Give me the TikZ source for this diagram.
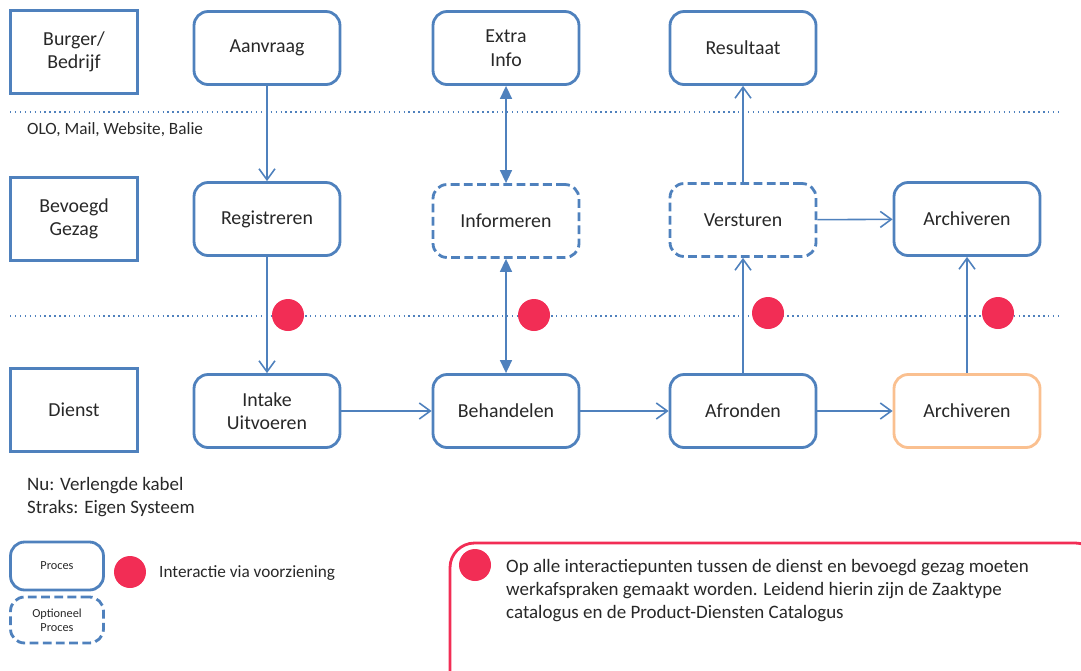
\documentclass[tikz,border=0pt]{standalone}
\usepackage{fontspec}
\setmainfont{Carlito}
\usetikzlibrary{positioning,arrows.meta}
\definecolor{procblue}{RGB}{79,129,189}
\definecolor{archorange}{RGB}{250,192,144}
\definecolor{dotred}{RGB}{242,45,85}
\definecolor{txtgray}{RGB}{40,40,40}

\begin{document}
\begin{tikzpicture}[x=0.02cm, y=-0.02cm, >=Stealth,
    actor/.style={draw=procblue, line width=1.6pt, minimum width=2.54cm, minimum height=1.66cm, align=center, text=txtgray, font=\fontsize{11.3}{13.4}\selectfont},
    proces/.style={draw=procblue, line width=1.6pt, rounded corners=8pt, minimum width=2.92cm, minimum height=1.46cm, align=center, text=txtgray, font=\fontsize{11.3}{13.4}\selectfont},
    optproces/.style={proces, dash pattern=on 5pt off 2.5pt},
    flow/.style={draw=procblue, line width=0.9pt, -{Straight Barb[length=2.2mm, width=3.2mm]}},
    twoway/.style={draw=procblue, line width=0.9pt, {Triangle[length=2.6mm, width=2.4mm]}-{Triangle[length=2.6mm, width=2.4mm]}},
    lane/.style={draw=procblue, line width=0.8pt, dotted},
    dot/.style={circle, fill=dotred, minimum size=0.64cm, inner sep=0pt}]

    \clip (0,0) rectangle (1081,670);

    % --- LANES ---
    \draw[lane] (10,112) -- (1060,112);
    \draw[lane] (10,316) -- (1060,316);
    \node[anchor=west, text=txtgray, font=\fontsize{9.8}{12}\selectfont] (kanaal) at (21,130) {OLO, Mail, Website, Balie};

    \node[actor] (burger) at (74,52) {Burger/\\Bedrijf};
    \node[actor] (gezag) at (74,219) {Bevoegd\\Gezag};
    \node[actor] (dienst) at (74,410) {Dienst};

    % --- BURGER / BEDRIJF ---
    \node[proces] (aanvraag) at (267,48) {Aanvraag};
    \node[proces] (extra) at (506,48) {Extra\\Info};
    \node[proces] (resultaat) at (743,48) {Resultaat};

    % --- BEVOEGD GEZAG ---
    \node[proces] (registreren) at (267,219) {Registreren};
    \node[optproces] (informeren) at (506,221) {Informeren};
    \node[optproces] (versturen) at (743,220) {Versturen};
    \node[proces] (archiefgezag) at (967,219) {Archiveren};

    % --- DIENST ---
    \node[proces] (intake) at (267,411) {Intake\\Uitvoeren};
    \node[proces] (behandelen) at (506,411) {Behandelen};
    \node[proces] (afronden) at (743,411) {Afronden};
    \node[proces, draw=archorange] (archiefdienst) at (967,411) {Archiveren};

    % --- CONNECTORS ---
    \draw[flow] (aanvraag) -- (registreren);
    \draw[flow] (registreren) -- (intake);
    \draw[twoway] (extra) -- (informeren);
    \draw[twoway] (informeren) -- (behandelen);
    \draw[flow] (afronden) -- (versturen);
    \draw[flow] (versturen) -- (resultaat);
    \draw[flow] (versturen) -- (archiefgezag);
    \draw[flow] (archiefdienst) -- (archiefgezag);
    \draw[flow] (intake) -- (behandelen);
    \draw[flow] (behandelen) -- (afronden);
    \draw[flow] (afronden) -- (archiefdienst);

    % interaction points
    \node[dot] (punt1) at (288,315) {};
    \node[dot] (punt2) at (534,315) {};
    \node[dot] (punt3) at (768,313) {};
    \node[dot] (punt4) at (998,313) {};

    % --- NOTES ---
    \node[anchor=west, align=left, text=txtgray, font=\fontsize{10.8}{13}\selectfont] (nu) at (21,497) {Nu: Verlengde kabel\\Straks: Eigen Systeem};

    % legend
    \node[proces, minimum width=1.86cm, minimum height=0.96cm, font=\scriptsize] (legproces) at (57,566) {Proces};
    \node[optproces, minimum width=1.86cm, minimum height=0.92cm, font=\scriptsize] (legoptie) at (57,620) {Optioneel\\Proces};
    \node[dot] (legdot) at (130,572) {};
    \node[anchor=west, text=txtgray, font=\fontsize{9.8}{12}\selectfont] (legtekst) at (153,573) {Interactie via voorziening};

    % remark box
    \draw[draw=dotred, line width=1.6pt, rounded corners=14pt] (450,543) rectangle (1100,700);
    \node[dot] (opmdot) at (475,565) {};
    \node[anchor=north west, align=left, text=txtgray, font=\fontsize{10.8}{13}\selectfont] (opmerking) at (500,553)
        {Op alle interactiepunten tussen de dienst en bevoegd gezag moeten\\werkafspraken gemaakt worden. Leidend hierin zijn de Zaaktype\\catalogus en de Product-Diensten Catalogus};

\end{tikzpicture}
\end{document}
